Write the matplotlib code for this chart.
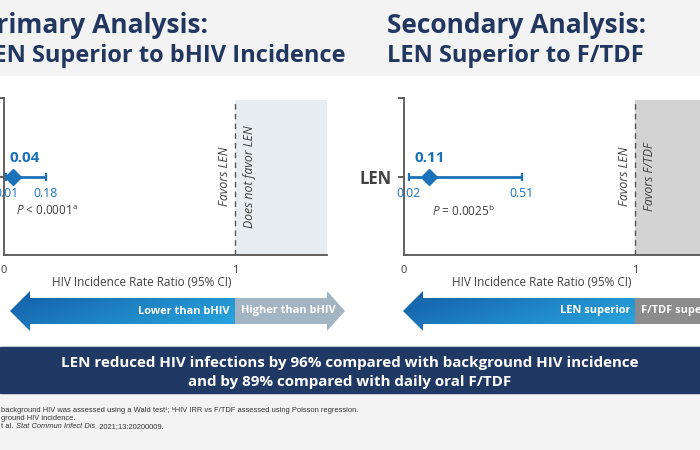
import numpy as np
import matplotlib
matplotlib.use("Agg")
import matplotlib.pyplot as plt
from matplotlib.patches import Polygon, Rectangle
from matplotlib.colors import to_rgb

# ---------------- data ----------------
title_line1 = ["Primary Analysis:", "Secondary Analysis:"]
title_line2 = ["LEN Superior to bHIV Incidence", "LEN Superior to F/TDF"]
row_label = "LEN"
irr = [0.04, 0.11]
ci_low = [0.01, 0.02]
ci_high = [0.18, 0.51]
p_texts = [r"$\it{P}$ < 0.0001$^{\rm a}$", r"$\it{P}$ = 0.0025$^{\rm b}$"]
ref_value = 1
xtick_values = [0, 1]
xtick_labels = ["0", "1"]
xlabel = "HIV Incidence Rate Ratio (95% CI)"
side_left = ["Favors LEN", "Favors LEN"]
side_right = ["Does not favor LEN", "Favors F/TDF"]
arrow_left = ["Lower than bHIV", "LEN superior"]
arrow_right = ["Higher than bHIV", "F/TDF superior"]
banner_lines = ["LEN reduced HIV infections by 96% compared with background HIV incidence",
                "and by 89% compared with daily oral F/TDF"]
footnotes = ["background HIV was assessed using a Wald test\u00b9; \u1d47HIV IRR vs F/TDF assessed using Poisson regression.",
             "ground HIV incidence."]
footnote_ref_plain = "t al. "
footnote_ref_italic = "Stat Commun Infect Dis"
footnote_ref_tail = ". 2021;13:20200009."

# ---------------- style ----------------
W, H = 700, 450
NAVY = "#22375f"
BLUE = "#1b72b8"
GREY_TXT = "#404040"
FONT = ["Open Sans", "DejaVu Sans"]
NARROW = ["Liberation Sans Narrow", "Liberation Sans", "DejaVu Sans"]
plt.rcParams["font.family"] = FONT
plt.rcParams["mathtext.fontset"] = "custom"
plt.rcParams["mathtext.rm"] = "Open Sans"
plt.rcParams["mathtext.it"] = "Open Sans:italic"

fig = plt.figure(figsize=(W / 100, H / 100), dpi=100, facecolor="#f3f3f3")
bg = fig.add_axes([0, 0, 1, 1], zorder=0)
bg.set_xlim(0, W)
bg.set_ylim(H, 0)
bg.axis("off")
bg.add_patch(Rectangle((0, 76), W, 268, color="white", zorder=0))

PX_PER_UNIT = 231
axis_x0 = [4, 404]
xmax = [1.4, (W - 404) / PX_PER_UNIT]
shade = ["#e8edf1", "#d3d3d3"]
ax_top, ax_bot = 98, 255

axes = []
for i in range(2):
    left = axis_x0[i] / W
    width = xmax[i] * PX_PER_UNIT / W
    ax = fig.add_axes([left, (H - ax_bot) / H, width, (ax_bot - ax_top) / H], zorder=2)
    ax.patch.set_alpha(0)
    ax.set_xlim(0, xmax[i])
    ax.set_ylim(0, 2)
    for s in ["top", "right"]:
        ax.spines[s].set_visible(False)
    for s in ["left", "bottom"]:
        ax.spines[s].set_color("#555555")
        ax.spines[s].set_linewidth(1.3)
    ax.axvspan(ref_value, xmax[i], ymin=0, ymax=0.985, color=shade[i], lw=0, zorder=0)
    ax.axvline(ref_value, ymax=0.985, color="#555555", lw=1.0, ls=(0, (4, 3)), zorder=1)
    ax.set_xticks(xtick_values)
    ax.set_xticklabels(xtick_labels, fontsize=8, color=GREY_TXT)
    ax.tick_params(axis="x", length=0, pad=7)
    ax.set_yticks([1, 2])
    ax.set_yticklabels([row_label, ""], fontsize=12, fontweight="bold", color=GREY_TXT)
    ax.tick_params(axis="y", length=4, width=1.3, color="#555555", pad=5)
    # CI and point
    ax.errorbar([irr[i]], [1], xerr=[[irr[i] - ci_low[i]], [ci_high[i] - irr[i]]],
                fmt="D", color=BLUE, ms=8, elinewidth=2, capsize=3, capthick=1.6, zorder=4,
                clip_on=False)
    lab_dx = [8, 0][i]
    ax.annotate(f"{irr[i]:.2f}", (irr[i], 1), xytext=(lab_dx, 13), textcoords="offset points",
                ha="center", va="center", fontsize=11, fontweight="bold", color=BLUE,
                annotation_clip=False)
    for v in (ci_low[i], ci_high[i]):
        ax.annotate(f"{v:.2f}", (v, 1), xytext=(0, -12.5), textcoords="offset points",
                    ha="center", va="center", fontsize=8.8, color=BLUE, annotation_clip=False)
    ax.annotate(p_texts[i], (irr[i], 1), xytext=(2, -25), textcoords="offset points",
                ha="left", va="center", fontsize=8.5, color=GREY_TXT, annotation_clip=False)
    ax.annotate(side_left[i], (ref_value, 1), xytext=(-7.5, 0), textcoords="offset points",
                ha="center", va="center", rotation=90, fontsize=8.8, style="italic",
                color=GREY_TXT, annotation_clip=False)
    ax.annotate(side_right[i], (ref_value, 1), xytext=(10.5, 0), textcoords="offset points",
                ha="center", va="center", rotation=90, fontsize=8.8, style="italic",
                color=GREY_TXT, annotation_clip=False)
    axes.append(ax)

fig.canvas.draw()


def data_to_px(ax, x):
    disp = ax.transData.transform((x, 1))
    return disp[0]


# x labels and arrows
arrow_tip_off = [6, -1]
gray_end = [327, W + 20]
gray_col = ["#a3b5c3", "#8c8c8c"]
y_mid, body_h, head_h = 311, 26, 40
blue_c0 = np.array(to_rgb("#145ea6"))
blue_c1 = np.array(to_rgb("#28a2dc"))
for i, ax in enumerate(axes):
    x0 = data_to_px(ax, 0)
    x1 = data_to_px(ax, ref_value)
    bg.text((x0 + x1) / 2 + 22, 283, xlabel, ha="center", va="center", fontsize=8.5, color=GREY_TXT)
    tip = x0 + arrow_tip_off[i]
    base = tip + 20
    yt, yb = y_mid - body_h / 2, y_mid + body_h / 2
    ht, hb = y_mid - head_h / 2, y_mid + head_h / 2
    poly = Polygon([(tip, y_mid), (base, ht), (base, yt), (x1, yt), (x1, yb), (base, yb), (base, hb)],
                   closed=True, fc="none", ec="none")
    bg.add_patch(poly)
    nx, ny = 200, 20
    gx = np.linspace(0, 1, nx)[None, :]
    gy = np.linspace(0, 1, ny)[:, None]
    t = np.clip(0.75 * gx + 0.35 * gy, 0, 1)[..., None]
    img = blue_c0 * (1 - t) + blue_c1 * t
    im = bg.imshow(img, extent=(tip, x1, hb, ht), aspect="auto", zorder=1, interpolation="bilinear")
    im.set_clip_path(poly)
    ge = gray_end[i]
    bg.add_patch(Polygon([(x1, yt), (ge, yt), (ge, ht), (ge + 18, y_mid), (ge, hb), (ge, yb), (x1, yb)],
                         closed=True, fc=gray_col[i], ec="none", zorder=1))
    bg.text(x1 - 5, y_mid, arrow_left[i], ha="right", va="center", fontsize=7.9,
            fontweight="bold", color="white", zorder=3)
    bg.text(x1 + 6, y_mid, arrow_right[i], ha="left", va="center", fontsize=7.9,
            fontweight="bold", color="white", zorder=3)

# titles
bg.text(208, 33, title_line1[0], ha="right", va="baseline", fontsize=19, fontweight="bold", color=NAVY)
bg.text(345, 62, title_line2[0], ha="right", va="baseline", fontsize=17, fontweight="bold", color=NAVY)
bg.text(387, 33, title_line1[1], ha="left", va="baseline", fontsize=19, fontweight="bold", color=NAVY)
bg.text(387, 62, title_line2[1], ha="left", va="baseline", fontsize=17, fontweight="bold", color=NAVY)

# banner
bg.add_patch(Rectangle((0, 347), W, 46, color="#1f3864", zorder=1))
bg.text(W / 2, 363, banner_lines[0], ha="center", va="center", fontsize=10.9, fontweight="bold",
        color="white", zorder=3)
bg.text(W / 2, 382, banner_lines[1], ha="center", va="center", fontsize=10.9, fontweight="bold",
        color="white", zorder=3)

# footnotes
fy = [411, 419]
FS = 5.4
for y, s in zip(fy, footnotes):
    bg.text(1, y, s, ha="left", va="center", fontsize=FS, color="#333333", family=NARROW)
t1 = bg.text(1, 427, footnote_ref_plain, ha="left", va="center", fontsize=FS, color="#333333", family=NARROW)
fig.canvas.draw()
r = fig.canvas.get_renderer()
x = 1 + t1.get_window_extent(r).width
t2 = bg.text(x, 427, footnote_ref_italic, ha="left", va="center", fontsize=FS, color="#333333",
             family=NARROW, style="italic")
x += t2.get_window_extent(r).width
bg.text(x, 427, footnote_ref_tail, ha="left", va="center", fontsize=FS, color="#333333", family=NARROW)

fig.savefig("out.png", dpi=100, facecolor=fig.get_facecolor())
